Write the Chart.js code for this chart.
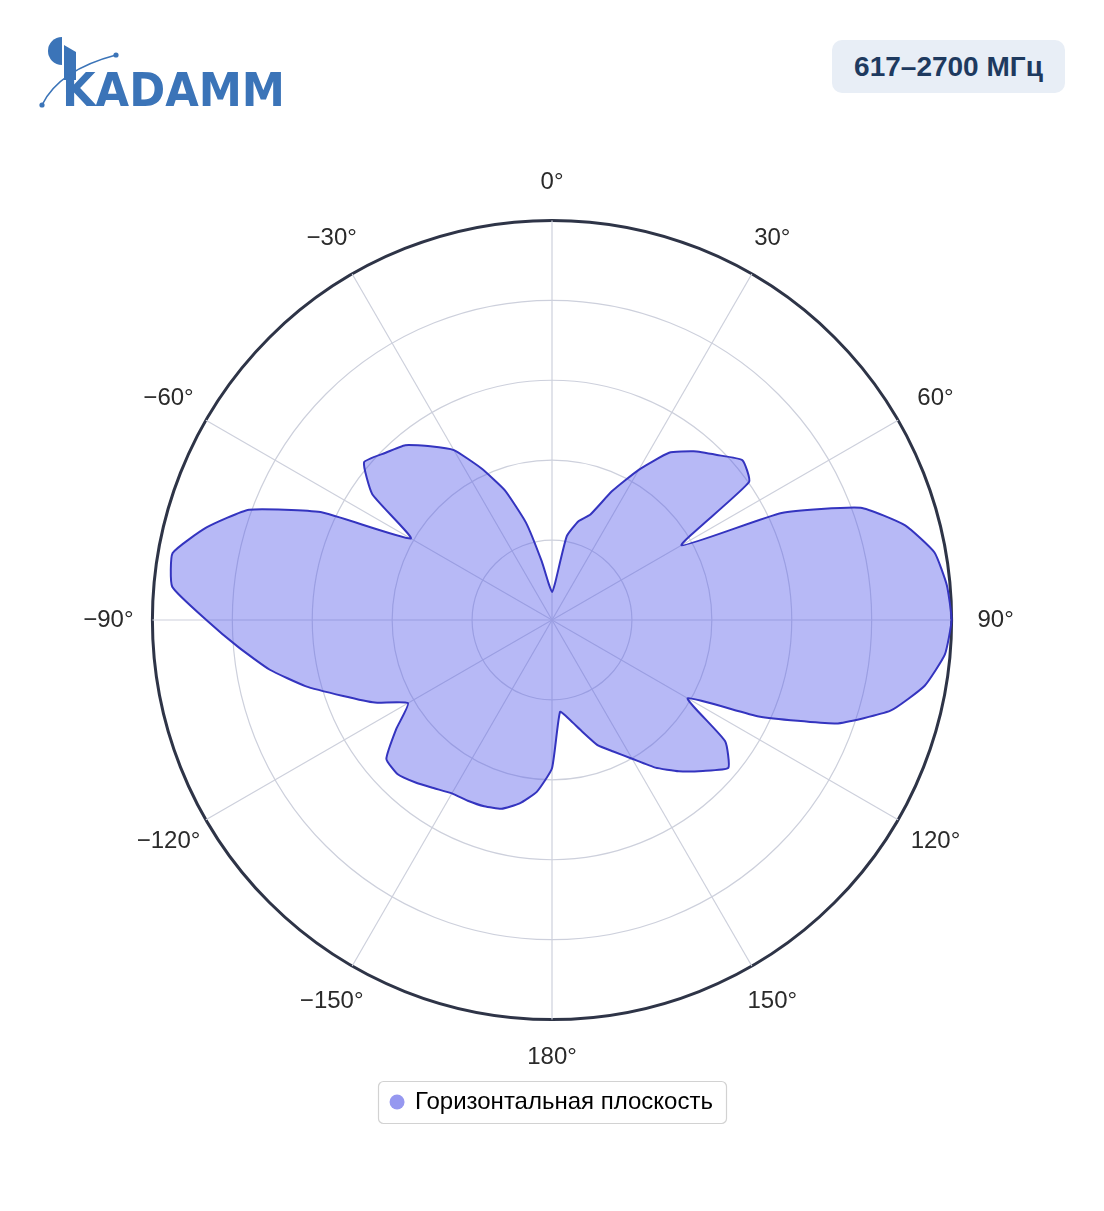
<!DOCTYPE html>
<html>
<head>
<meta charset="utf-8">
<script src="https://cdn.jsdelivr.net/npm/chart.js@4.4.1/dist/chart.umd.min.js"></script>
<style>
html,body{margin:0;padding:0;background:#ffffff;}
#wrap{position:relative;width:1104px;height:1211px;overflow:hidden;background:#fff;}
#c{position:absolute;left:0;top:0;}
#logo{position:absolute;left:0;top:0;}
#badge{position:absolute;left:832px;top:40px;width:233px;height:53px;border-radius:10px;background:#e8eef6;color:#1e3a5f;font:bold 28px "Liberation Sans",Arial,sans-serif;display:flex;align-items:center;justify-content:center;}
</style>
</head>
<body>
<div id="wrap">
<canvas id="c" width="1104" height="1211"></canvas>
<svg id="logo" width="300" height="120" viewBox="0 0 300 120">
  <path d="M62,37 A14,14 0 0,0 62,65 Z" fill="#3b74b8"/>
  <polygon points="64,45 76,52 76,80 64,80" fill="#3b74b8"/>
  <text x="62" y="106" font-family="DejaVu Sans" font-weight="bold" font-size="47" fill="#3b74b8" textLength="223" lengthAdjust="spacingAndGlyphs">KADAMM</text>
  <path d="M42,105 Q59,70 116,55" fill="none" stroke="#3b74b8" stroke-width="1.6"/>
  <circle cx="42" cy="105" r="2.6" fill="#3b74b8"/>
  <circle cx="116" cy="55" r="2.6" fill="#3b74b8"/>
</svg>
<div id="badge">617–2700 МГц</div>
</div>
<script>
// Angular categories (degrees, clockwise from top)
const angles = [0,5,10,15,20,25,30,35,40,45,50,55,60,65,70,75,80,85,90,95,100,105,110,115,
  120,125,130,135,140,145,150,155,160,165,170,175,180,185,190,195,200,205,210,215,220,225,230,235,
  240,245,250,255,260,265,270,275,280,285,290,295,300,305,310,315,320,325,330,335,340,345,350,355];
// Relative radiation level (0..100 of the outer ring)
const gain = [7.0,9.5,21.3,25.6,28.1,35.6,43.4,51.1,55.1,58.4,62.2,60.2,37.4,63.4,82.2,91.5,97.2,99.2,100,98.7,94.7,87.7,75.7,57.1,
  39.2,52.9,57.6,53.4,49.4,45.1,40.1,36.3,33.3,28.8,25.3,23.1,37.1,43.1,46.6,48.9,49.6,49.9,50.1,51.4,53.1,54.6,54.1,47.6,
  41.6,48.9,55.6,63.9,71.7,78.7,86.5,95.4,96.4,89.5,80.7,63.9,40.8,54.9,61.4,59.1,57.1,53.1,49.1,41.9,34.6,25.3,15.0,9.0];
const tickAngles = [0,30,60,90,120,150,180,210,240,270,300,330];
const tickLabels = ['0°','30°','60°','90°','120°','150°','180°','−150°','−120°','−90°','−60°','−30°'];
const seriesName = 'Горизонтальная плоскость';

const gridColor = '#cdd0dc';
const axisColor = '#2e3447';
const labelSize = 24;
const labelFamily = '"Liberation Sans", Arial, sans-serif';

// place each angular label so that its centre sits on its ray
const mctx = document.createElement('canvas').getContext('2d');
mctx.font = labelSize + 'px ' + labelFamily;
function labelGeom(i) {
  const lhDef = labelSize * 1.2;
  const k = tickAngles.indexOf(angles[i]);
  if (k < 0) return { pad: 0, lh: lhDef };
  const a = angles[i] * Math.PI / 180;
  const s = Math.abs(Math.sin(a)), c = Math.abs(Math.cos(a));
  const w = mctx.measureText(tickLabels[k]).width;
  const off = 38 + 6 * s;
  if (s < 1e-6) return { pad: off - lhDef / 2, lh: lhDef };
  if (c < 1e-6) return { pad: off - w / 2, lh: lhDef };
  return { pad: off - w / (2 * s), lh: w * c / s };
}

const legendFrame = {
  id: 'legendFrame',
  afterDraw(chart) {
    const lg = chart.legend;
    if (!lg || !lg.legendHitBoxes || !lg.legendHitBoxes.length) return;
    const hb = lg.legendHitBoxes[0];
    const ctx = chart.ctx;
    const cx = hb.left + 6;
    const x0 = cx - 19, x1 = hb.left + hb.width + 13;
    const cy = hb.top + hb.height / 2;
    const y0 = cy - 21, y1 = cy + 21;
    ctx.save();
    ctx.beginPath();
    ctx.roundRect(Math.round(x0) + 0.5, Math.round(y0) + 0.5, Math.round(x1 - x0), Math.round(y1 - y0), 5);
    ctx.strokeStyle = '#d2d2d2';
    ctx.lineWidth = 1.2;
    ctx.stroke();
    ctx.restore();
  }
};

new Chart(document.getElementById('c'), {
  type: 'radar',
  data: {
    labels: angles,
    datasets: [{
      label: seriesName,
      data: gain,
      borderColor: '#3434bf',
      borderWidth: 2,
      backgroundColor: 'rgba(90,95,235,0.44)',
      fill: true,
      pointRadius: 0,
      pointHoverRadius: 0,
      tension: 0.15,
      borderJoinStyle: 'round'
    }]
  },
  options: {
    responsive: false,
    animation: false,
    devicePixelRatio: 1,
    layout: { padding: { top: 168, bottom: 87, left: 0, right: 0 } },
    scales: {
      r: {
        min: 0,
        max: 100,
        beginAtZero: true,
        ticks: { display: false, stepSize: 20 },
        grid: {
          circular: true,
          color: (c) => (c.tick && c.tick.value === 100) ? axisColor : gridColor,
          lineWidth: (c) => (c.tick && c.tick.value === 100) ? 3 : 1.2
        },
        angleLines: {
          color: (c) => tickAngles.includes(angles[c.index]) ? gridColor : 'rgba(0,0,0,0)',
          lineWidth: (c) => tickAngles.includes(angles[c.index]) ? 1.2 : 0
        },
        pointLabels: {
          padding: (c) => labelGeom(c.index).pad,
          color: '#2a2a2a',
          font: (c) => ({ family: labelFamily, size: labelSize, lineHeight: labelGeom(c.index).lh / labelSize }),
          callback: (v, i) => {
            const k = tickAngles.indexOf(angles[i]);
            return k >= 0 ? tickLabels[k] : '';
          }
        }
      }
    },
    plugins: {
      tooltip: { enabled: false },
      legend: {
        position: 'bottom',
        labels: {
          usePointStyle: true,
          boxWidth: 12,
          boxHeight: 10.6,
          padding: 18,
          color: '#2a2a2a',
          font: { family: labelFamily, size: 24 },
          generateLabels: () => [{
            text: seriesName,
            fillStyle: 'rgb(150,152,240)',
            strokeStyle: 'rgb(150,152,240)',
            lineWidth: 0,
            pointStyle: 'circle',
            hidden: false,
            datasetIndex: 0
          }]
        }
      }
    }
  },
  plugins: [legendFrame]
});
</script>
</body>
</html>
